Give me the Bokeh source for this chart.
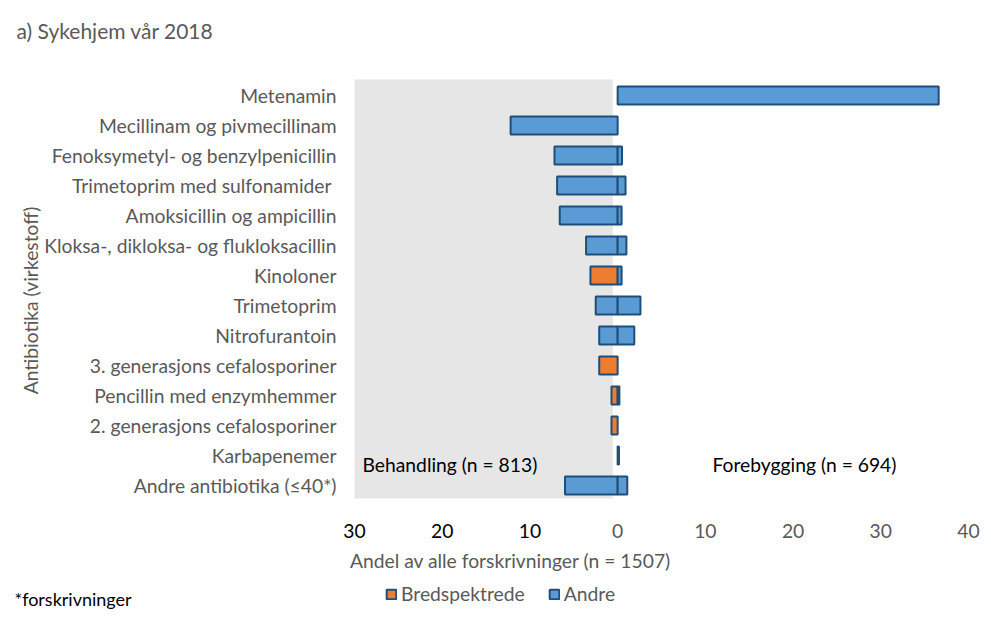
from math import pi
from bokeh.plotting import figure
from bokeh.models import (Range1d, ColumnDataSource, Legend, LegendItem)
from bokeh.core.properties import value
from bokeh.embed import file_html
from bokeh.resources import INLINE

# ---------------- data ----------------
categories = [
    "Metenamin",
    "Mecillinam og pivmecillinam",
    "Fenoksymetyl- og benzylpenicillin",
    "Trimetoprim med sulfonamider ",
    "Amoksicillin og ampicillin",
    "Kloksa-, dikloksa- og flukloksacillin",
    "Kinoloner",
    "Trimetoprim",
    "Nitrofurantoin",
    "3. generasjons cefalosporiner",
    "Pencillin med enzymhemmer",
    "2. generasjons cefalosporiner",
    "Karbapenemer",
    "Andre antibiotika (\u226440*)",
]
# Behandling (treatment) - drawn to the left of 0
behandling_bredspektrede = [0, 0, 0, 0, 0, 0, 3.1, 0, 0, 2.1, 0.7, 0.7, 0, 0]
behandling_andre = [0, 12.2, 7.2, 6.9, 6.6, 3.6, 0, 2.5, 2.1, 0, 0, 0, 0, 6.0]
# Forebygging (prevention) - drawn to the right of 0
forebygging_bredspektrede = [0, 0, 0, 0, 0, 0, 0, 0, 0, 0, 0, 0, 0, 0]
forebygging_andre = [36.6, 0, 0.5, 0.9, 0.45, 1.0, 0.45, 2.6, 1.9, 0, 0.2, 0, 0.15, 1.1]

tick_values = [-30, -20, -10, 0, 10, 20, 30, 40]
tick_labels = ["30", "20", "10", "0", "10", "20", "30", "40"]

series_names = ["Bredspektrede", "Andre"]

# ---------------- layout / styling ----------------
FONT = "Lato"
GREY = "#595959"
ORANGE = "#ED7D31"
BLUE = "#5B9BD5"
EDGE = "#1F4E79"
SHADE = "#E6E6E6"

W, H = 991, 626
PX_LEFT, PX_RIGHT = 354, 968        # pixel positions of x = -30 and x = 40
XSCALE = (PX_RIGHT - PX_LEFT) / 70.0
X_ZERO = PX_LEFT + 30 * XSCALE
ROW0, ROW = 95, 30                   # first row centre and row pitch (px)


def dx(px):
    return (px - X_ZERO) / XSCALE


def dy(py):
    return (py - ROW0) / ROW


rows = list(range(len(categories)))

# bar segments
o_y, o_l, o_r = [], [], []
b_y, b_l, b_r = [], [], []
for r, bb, ba, fb, fa in zip(rows, behandling_bredspektrede, behandling_andre,
                             forebygging_bredspektrede, forebygging_andre):
    if bb > 0:
        o_y.append(r); o_l.append(-bb); o_r.append(0)
    if ba > 0:
        b_y.append(r); b_l.append(-(bb + ba)); b_r.append(-bb)
    if fb > 0:
        o_y.append(r); o_l.append(0); o_r.append(fb)
    if fa > 0:
        b_y.append(r); b_l.append(fb); b_r.append(fb + fa)

src_o = ColumnDataSource(dict(y=o_y, left=o_l, right=o_r))
src_b = ColumnDataSource(dict(y=b_y, left=b_l, right=b_r))

p = figure(width=W, height=H, output_backend="svg", toolbar_location=None,
           x_range=Range1d(dx(0), dx(W)), y_range=Range1d(dy(H), dy(0)),
           x_axis_location=None, y_axis_location=None, min_border=0)
p.outline_line_color = None
p.xgrid.visible = False
p.ygrid.visible = False
p.background_fill_color = "white"
p.border_fill_color = "white"

# grey "Behandling" panel
p.quad(left=[-30], right=[-0.55], top=[dy(79)], bottom=[dy(498)],
       fill_color=SHADE, line_color=None)

bar_h = 0.6
r_o = p.hbar(y="y", left="left", right="right", height=bar_h, source=src_o,
             fill_color=ORANGE, line_color=EDGE, line_width=2)
r_b = p.hbar(y="y", left="left", right="right", height=bar_h, source=src_b,
             fill_color=BLUE, line_color=EDGE, line_width=2)

# category labels (y axis)
cat_src = ColumnDataSource(dict(x=[dx(336)] * len(categories), y=rows, text=categories))
p.text(x="x", y="y", text="text", source=cat_src, text_font=value(FONT),
       text_font_size="19.3px", text_color=GREY, text_align="right",
       text_baseline="middle")

# x tick labels (treatment side black, prevention side grey)
tick_src = ColumnDataSource(dict(x=tick_values, y=[dy(530)] * len(tick_values),
                                 text=tick_labels,
                                 color=["black" if t < 0 else GREY for t in tick_values]))
p.text(x="x", y="y", text="text", source=tick_src, text_font=value(FONT),
       text_font_size="19.3px", text_color="color", text_align="center",
       text_baseline="middle")


def add_text(text, px, py, size="19.3px", color=GREY, align="left", angle=0.0):
    p.text(x=[dx(px)], y=[dy(py)], text=[text], text_font=value(FONT),
           text_font_size=size, text_color=color, text_align=align,
           text_baseline="middle", angle=angle)


add_text("a) Sykehjem v\u00e5r 2018", 16, 30, size="21px")
add_text("Antibiotika (virkestoff)", 30, 300, size="19.3px", align="center", angle=pi / 2)
add_text("Andel av alle forskrivninger (n = 1507)", 510, 560, align="center")
add_text("*forskrivninger", 14, 598, size="18px", color="black")
add_text("Behandling (n = 813)", 362, 464, color="black")
add_text("Forebygging (n = 694)", 712, 464, color="black")

legend = Legend(items=[LegendItem(label=series_names[0], renderers=[r_o]),
                       LegendItem(label=series_names[1], renderers=[r_b])],
                orientation="horizontal", location=(385, H - 605),
                glyph_width=12, glyph_height=12, label_height=20,
                label_text_font=FONT, label_text_font_size="19.3px",
                label_text_color=GREY, label_standoff=4, spacing=23,
                padding=0, margin=0, border_line_color=None,
                background_fill_alpha=0)
p.add_layout(legend)

open("out.html", "w").write(file_html(p, INLINE))
